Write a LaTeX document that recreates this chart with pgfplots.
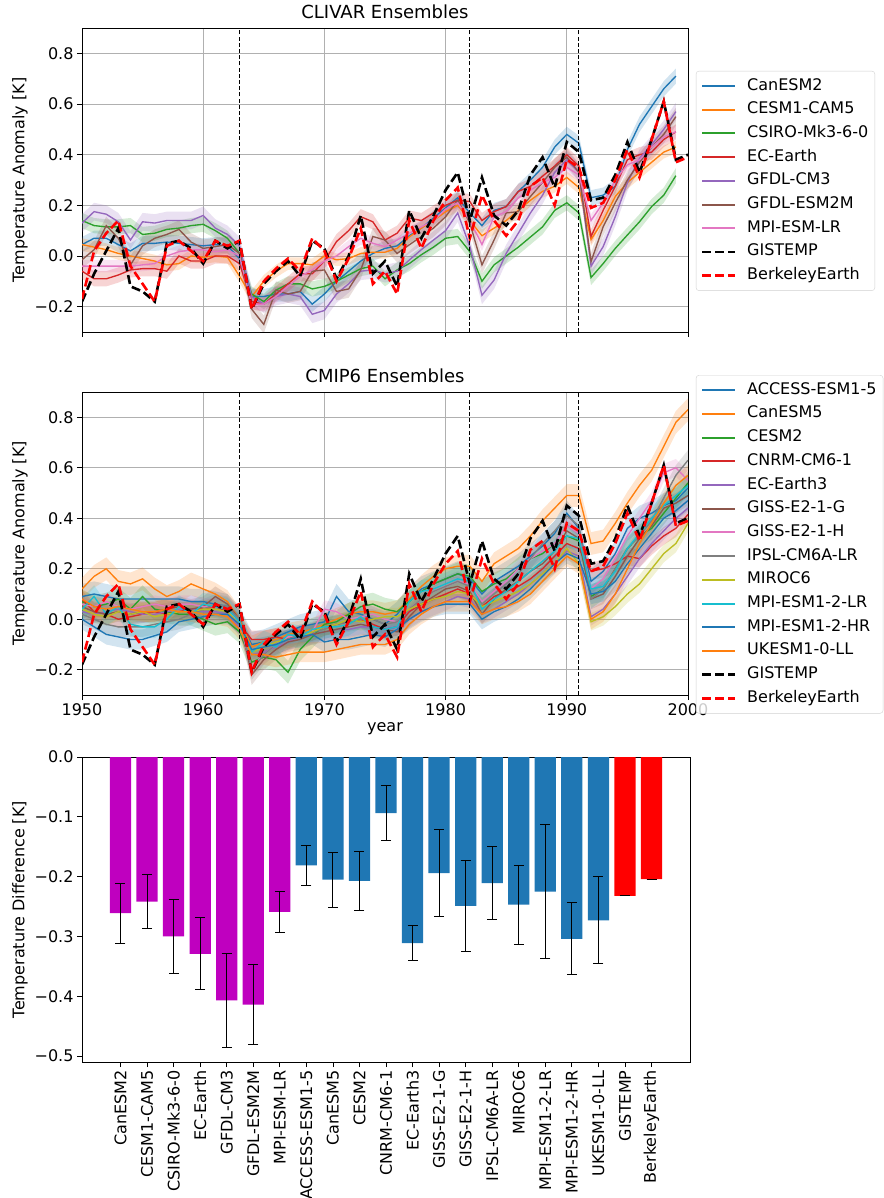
\documentclass[border=0pt]{standalone}
\usepackage{fontspec}
\setmainfont{DejaVu Sans}
\usepackage{pgfplots}
\usepackage{pgfplotstable}
\pgfplotsset{compat=1.18}

\definecolor{C0}{HTML}{1F77B4}
\definecolor{C1}{HTML}{FF7F0E}
\definecolor{C2}{HTML}{2CA02C}
\definecolor{C3}{HTML}{D62728}
\definecolor{C4}{HTML}{9467BD}
\definecolor{C5}{HTML}{8C564B}
\definecolor{C6}{HTML}{E377C2}
\definecolor{C7}{HTML}{7F7F7F}
\definecolor{C8}{HTML}{BCBD22}
\definecolor{C9}{HTML}{17BECF}
\definecolor{mag}{rgb}{0.75,0,0.75}
\definecolor{gridc}{HTML}{B0B0B0}

\newcommand\fs{\fontsize{16}{19}\selectfont}

% CLIVAR ensemble means: a1 CanESM2, a2 CESM1-CAM5, a3 CSIRO-Mk3-6-0, a4 EC-Earth, a5 GFDL-CM3, a6 GFDL-ESM2M, a7 MPI-ESM-LR
\pgfplotstableread{
year a1 a2 a3 a4 a5 a6 a7
1950 0.045 0.045 0.14 -0.06 0.13 -0.015 -0.04
1951 0.07 0.035 0.12 -0.09 0.175 0.025 -0.04
1952 0.07 0.025 0.115 -0.09 0.165 0.12 -0.04
1953 0.045 0.01 0.115 -0.075 0.135 0.07 -0.04
1954 0.02 0.0 0.12 -0.055 0.063 -0.035 -0.04
1955 0.05 -0.01 0.085 -0.05 0.135 0.04 -0.035
1956 0.05 -0.02 0.09 -0.05 0.13 0.07 -0.03
1957 0.055 -0.035 0.105 -0.06 0.14 0.085 0.0
1958 0.05 -0.03 0.11 0.0 0.14 0.105 0.017
1959 0.045 0.0 0.12 -0.02 0.14 0.055 0.024
1960 0.04 -0.005 0.125 -0.02 0.16 0.03 0.024
1961 0.045 0.0 0.10 0.0 0.11 0.037 0.017
1962 0.04 -0.005 0.07 0.0 0.085 0.045 0.024
1963 -0.01 -0.08 0.01 -0.03 0.04 0.01 0.0
1964 -0.16 -0.16 -0.15 -0.18 -0.16 -0.21 -0.19
1965 -0.16 -0.10 -0.18 -0.19 -0.19 -0.27 -0.19
1966 -0.15 -0.06 -0.135 -0.15 -0.16 -0.135 -0.16
1967 -0.15 -0.03 -0.11 -0.11 -0.15 -0.15 -0.12
1968 -0.14 -0.03 -0.11 -0.07 -0.16 -0.14 -0.08
1969 -0.19 -0.035 -0.13 -0.07 -0.23 -0.06 -0.055
1970 -0.15 0.0 -0.12 -0.02 -0.215 -0.055 -0.02
1971 -0.10 -0.015 -0.10 0.057 -0.15 -0.14 0.0
1972 -0.06 -0.01 -0.075 0.10 -0.11 -0.13 0.037
1973 -0.02 0.01 -0.05 0.155 -0.06 -0.055 0.07
1974 0.01 0.015 -0.04 0.135 -0.055 0.077 0.05
1975 0.03 0.015 -0.09 0.063 -0.07 0.063 0.037
1976 0.04 0.03 -0.055 0.09 -0.06 0.01 0.063
1977 0.08 0.075 -0.03 0.15 -0.016 0.044 0.09
1978 0.11 0.11 0.005 0.14 0.025 0.077 0.115
1979 0.15 0.14 0.035 0.17 0.063 0.11 0.14
1980 0.19 0.175 0.07 0.20 0.10 0.155 0.185
1981 0.23 0.20 0.077 0.22 0.17 0.22 0.21
1982 0.17 0.14 0.017 0.215 0.037 0.13 0.14
1983 0.12 0.08 -0.10 0.14 -0.155 -0.035 0.045
1984 0.18 0.11 -0.035 0.175 -0.095 0.063 0.155
1985 0.195 0.14 0.0 0.195 0.01 0.17 0.175
1986 0.255 0.18 0.035 0.255 0.09 0.175 0.23
1987 0.30 0.22 0.075 0.275 0.17 0.235 0.26
1988 0.35 0.255 0.115 0.315 0.24 0.29 0.29
1989 0.43 0.275 0.18 0.355 0.33 0.35 0.31
1990 0.48 0.31 0.21 0.40 0.38 0.39 0.35
1991 0.445 0.27 0.17 0.355 0.33 0.33 0.32
1992 0.23 0.065 -0.085 0.077 -0.04 -0.022 0.14
1993 0.24 0.14 -0.03 0.18 0.037 0.115 0.21
1994 0.275 0.235 0.03 0.275 0.155 0.21 0.30
1995 0.42 0.29 0.083 0.38 0.29 0.30 0.36
1996 0.52 0.33 0.135 0.40 0.385 0.37 0.38
1997 0.59 0.37 0.195 0.41 0.44 0.43 0.43
1998 0.66 0.41 0.24 0.46 0.50 0.48 0.47
1999 0.71 0.43 0.317 0.49 0.57 0.55 0.49
}\clivar

% CMIP6 ensemble means
\pgfplotstableread{
year b1 b2 b3 b4 b5 b6 b7 b8 b9 b10 b11 b12
1950 0.09 0.12 0.07 0.08 0.03 0.05 0.06 0.02 0.04 0.04 0.00 0.08
1951 0.10 0.17 0.05 0.03 0.02 0.03 0.05 0.00 0.02 0.09 -0.03 0.05
1952 0.09 0.20 0.06 0.02 0.03 0.02 0.07 -0.02 0.01 0.02 -0.06 0.04
1953 0.08 0.15 0.08 0.00 0.04 0.03 0.05 -0.03 0.03 0.05 -0.07 0.05
1954 0.08 0.14 0.04 0.01 0.03 0.02 0.04 -0.03 0.02 -0.02 -0.08 0.04
1955 0.08 0.16 0.09 0.02 0.02 0.03 0.05 -0.03 0.03 -0.03 -0.08 0.03
1956 0.08 0.12 0.04 0.03 0.02 0.03 0.06 -0.02 0.01 -0.03 -0.065 0.03
1957 0.08 0.09 0.03 0.02 0.03 0.04 0.05 -0.01 0.02 0.00 -0.05 0.04
1958 0.08 0.11 0.02 0.03 0.04 0.05 0.06 0.00 0.03 0.05 -0.01 0.03
1959 0.07 0.14 0.02 0.04 0.04 0.04 0.06 0.02 0.03 0.02 0.00 0.03
1960 0.07 0.12 0.00 0.04 0.03 0.05 0.05 0.04 0.04 0.06 0.01 0.02
1961 0.06 0.10 -0.02 0.05 0.03 0.09 0.05 0.06 0.04 0.05 0.02 0.02
1962 0.05 0.07 -0.01 0.03 0.02 0.06 0.04 0.05 0.03 0.04 0.02 0.01
1963 0.00 0.00 -0.05 -0.02 -0.03 0.00 -0.02 0.00 -0.02 -0.01 -0.02 -0.04
1964 -0.10 -0.11 -0.17 -0.08 -0.14 -0.22 -0.19 -0.20 -0.13 -0.13 -0.12 -0.14
1965 -0.09 -0.09 -0.15 -0.08 -0.13 -0.16 -0.14 -0.14 -0.11 -0.09 -0.11 -0.14
1966 -0.07 -0.08 -0.16 -0.07 -0.11 -0.12 -0.10 -0.10 -0.09 -0.11 -0.10 -0.15
1967 -0.05 -0.06 -0.21 -0.08 -0.09 -0.09 -0.07 -0.08 -0.08 -0.06 -0.08 -0.14
1968 -0.03 -0.05 -0.12 -0.06 -0.07 -0.08 -0.06 -0.06 -0.07 -0.07 -0.07 -0.13
1969 -0.02 -0.04 -0.07 -0.05 -0.06 -0.06 -0.05 -0.05 -0.05 -0.04 -0.06 -0.13
1970 -0.01 -0.02 -0.02 -0.03 -0.05 -0.05 0.04 -0.04 -0.03 -0.03 -0.09 -0.13
1971 0.09 0.00 -0.01 -0.02 -0.04 -0.04 0.03 -0.02 -0.02 -0.03 -0.08 -0.12
1972 0.03 0.02 0.02 -0.01 -0.04 -0.03 0.00 -0.01 0.00 -0.02 -0.08 -0.11
1973 0.02 0.03 0.05 0.00 -0.03 -0.02 0.01 0.00 -0.01 0.01 -0.07 -0.10
1974 0.00 0.03 0.06 -0.02 -0.03 -0.03 0.02 0.00 0.00 -0.03 -0.06 -0.10
1975 -0.02 0.02 0.04 -0.04 -0.04 -0.04 0.00 -0.02 0.01 -0.04 -0.07 -0.10
1976 0.02 0.03 0.03 -0.03 -0.03 -0.05 -0.01 -0.01 0.01 -0.03 -0.04 -0.08
1977 0.08 0.08 0.07 0.03 0.00 0.01 0.04 0.04 0.04 0.07 0.00 -0.02
1978 0.12 0.13 0.11 0.06 0.03 0.06 0.08 0.08 0.06 0.11 0.03 0.02
1979 0.14 0.17 0.14 0.08 0.05 0.09 0.11 0.11 0.08 0.12 0.05 0.05
1980 0.16 0.20 0.16 0.10 0.07 0.12 0.13 0.13 0.09 0.14 0.06 0.07
1981 0.18 0.21 0.18 0.12 0.09 0.13 0.15 0.15 0.11 0.16 0.06 0.07
1982 0.16 0.21 0.17 0.10 0.08 0.11 0.14 0.13 0.10 0.15 0.06 0.07
1983 0.10 0.15 0.11 0.05 0.02 0.02 0.07 0.06 0.05 0.04 0.00 0.02
1984 0.15 0.22 0.14 0.09 0.04 0.08 0.11 0.10 0.07 0.08 0.03 0.04
1985 0.18 0.25 0.16 0.11 0.07 0.12 0.15 0.14 0.09 0.11 0.05 0.05
1986 0.21 0.28 0.20 0.13 0.10 0.15 0.20 0.18 0.11 0.15 0.08 0.07
1987 0.25 0.33 0.24 0.16 0.14 0.19 0.24 0.24 0.14 0.19 0.12 0.10
1988 0.29 0.39 0.26 0.20 0.18 0.22 0.27 0.30 0.18 0.23 0.17 0.15
1989 0.34 0.44 0.30 0.25 0.22 0.27 0.30 0.35 0.22 0.27 0.22 0.20
1990 0.42 0.49 0.33 0.30 0.27 0.35 0.37 0.41 0.28 0.33 0.26 0.25
1991 0.36 0.49 0.31 0.28 0.25 0.32 0.34 0.37 0.22 0.32 0.24 0.22
1992 0.15 0.30 0.09 0.19 0.01 0.08 0.12 0.08 -0.01 0.12 0.10 0.00
1993 0.19 0.31 0.12 0.20 0.04 0.10 0.16 0.12 0.01 0.13 0.11 0.03
1994 0.26 0.38 0.20 0.22 0.10 0.17 0.24 0.20 0.05 0.19 0.15 0.10
1995 0.36 0.46 0.28 0.25 0.17 0.25 0.33 0.28 0.10 0.28 0.22 0.20
1996 0.40 0.53 0.33 0.24 0.24 0.32 0.40 0.33 0.14 0.34 0.28 0.30
1997 0.42 0.59 0.36 0.29 0.30 0.37 0.47 0.39 0.20 0.40 0.34 0.38
1998 0.45 0.685 0.42 0.33 0.35 0.44 0.58 0.48 0.26 0.45 0.40 0.46
1999 0.47 0.78 0.48 0.36 0.40 0.46 0.60 0.57 0.30 0.49 0.43 0.53
2000 0.52 0.83 0.54 0.415 0.44 0.49 0.55 0.63 0.38 0.53 0.47 0.57
}\cmip

% observations
\pgfplotstableread{
year gis be
1950 -0.18 -0.17
1951 -0.07 0.02
1952 0.02 0.09
1953 0.11 0.14
1954 -0.12 -0.04
1955 -0.14 -0.11
1956 -0.18 -0.18
1957 0.05 0.04
1958 0.06 0.06
1959 0.03 0.02
1960 -0.03 -0.02
1961 0.06 0.06
1962 0.03 0.04
1963 0.06 0.06
1964 -0.21 -0.21
1965 -0.11 -0.10
1966 -0.06 -0.05
1967 -0.02 -0.01
1968 -0.08 -0.06
1969 0.06 0.07
1970 0.03 0.02
1971 -0.09 -0.10
1972 0.00 -0.01
1973 0.16 0.11
1974 -0.07 -0.11
1975 -0.02 -0.06
1976 -0.12 -0.15
1977 0.18 0.14
1978 0.07 0.03
1979 0.16 0.14
1980 0.26 0.22
1981 0.33 0.27
1982 0.14 0.07
1983 0.31 0.24
1984 0.16 0.14
1985 0.12 0.08
1986 0.18 0.14
1987 0.32 0.275
1988 0.39 0.31
1989 0.27 0.20
1990 0.45 0.38
1991 0.41 0.35
1992 0.22 0.19
1993 0.23 0.21
1994 0.32 0.30
1995 0.45 0.42
1996 0.33 0.31
1997 0.46 0.46
1998 0.61 0.61
1999 0.38 0.37
2000 0.40 0.39
}\obs

% bar chart
\pgfplotstableread{
x y e
0 -0.261 0.050
1 -0.242 0.045
2 -0.300 0.062
3 -0.329 0.060
4 -0.407 0.079
5 -0.414 0.067
6 -0.259 0.034
}\barsA
\pgfplotstableread{
x y e
7 -0.181 0.033
8 -0.205 0.046
9 -0.207 0.049
10 -0.094 0.046
11 -0.311 0.030
12 -0.194 0.073
13 -0.249 0.076
14 -0.211 0.061
15 -0.247 0.066
16 -0.225 0.112
17 -0.304 0.060
18 -0.273 0.073
}\barsB
\pgfplotstableread{
x y e
19 -0.232 0
20 -0.204 0
}\barsC

% ensemble spread band around a mean column (#2 of table #1), colour #3, half width #4
\newcommand{\band}[4]{%
  \addplot[draw=none, stack plots=y, forget plot] table[x=year, y expr=\thisrow{#2}-#4]{#1};
  \addplot[draw=none, fill=#3, fill opacity=0.2, stack plots=y, forget plot] table[x=year, y expr=2*#4]{#1} \closedcycle;
  \addplot[draw=none, stack plots=y, forget plot] table[x=year, y expr=-\thisrow{#2}-#4]{#1};
}

\pgfplotsset{
  common/.style={
    scale only axis,
    tick align=outside, major tick length=5pt, tick pos=left,
    tick style={black, line width=0.8pt},
    axis line style={black, line width=0.8pt},
    tick label style={font=\fs},
    label style={font=\fs},
    title style={font=\fontsize{18}{21}\selectfont},
  },
  ts/.style={
    common,
    width=606pt, height=304pt,
    xmin=1950, xmax=2000, ymin=-0.3, ymax=0.9,
    xtick={1950,1960,1970,1980,1990,2000},
    ytick={-0.2,0,0.2,0.4,0.6,0.8},
    yticklabels={−0.2,0.0,0.2,0.4,0.6,0.8},
    grid=major, major grid style={draw=gridc, line width=0.8pt},
    ylabel={Temperature Anomaly [K]},
    legend cell align=left,
    legend image code/.code={\draw[##1] (0pt,0pt) -- (33pt,0pt);},
    legend style={draw=black!18, rounded corners=3pt, fill=white, fill opacity=0.8,
      draw opacity=1, text opacity=1, font=\fs,
      inner xsep=5pt, inner ysep=6pt, row sep=5.7pt,
      nodes={inner sep=1.5pt, text height=11.5pt, text depth=3.5pt},
      /tikz/every odd column/.append style={column sep=9pt}},
  },
  mline/.style={line width=1.35pt, legend image post style={line width=2pt}},
  obsline/.style={line width=2.6pt, dash pattern=on 9pt off 4pt},
  volc/.style={black, line width=1pt, dash pattern=on 4pt off 2.2pt, forget plot},
  ebar/.style={error bars/.cd, y dir=both, y explicit, error mark=|,
    error bar style={black, line width=0.9pt},
    error mark options={black, line width=0.9pt, mark size=5pt}},
}

\begin{document}
\begin{tikzpicture}

% ---------------- CLIVAR ----------------
\begin{axis}[ts, at={(82pt,-28pt)}, anchor=north west,
  title={CLIVAR Ensembles}, xticklabels={},
  legend style={at={(1.013,0.859)}, anchor=north west}]
\band{\clivar}{a1}{C0}{0.03}
\band{\clivar}{a2}{C1}{0.025}
\band{\clivar}{a3}{C2}{0.03}
\band{\clivar}{a4}{C3}{0.03}
\band{\clivar}{a5}{C4}{0.035}
\band{\clivar}{a6}{C5}{0.035}
\band{\clivar}{a7}{C6}{0.025}
\addplot[C0, mline] table[x=year, y=a1]{\clivar}; \addlegendentry{CanESM2}
\addplot[C1, mline] table[x=year, y=a2]{\clivar}; \addlegendentry{CESM1-CAM5}
\addplot[C2, mline] table[x=year, y=a3]{\clivar}; \addlegendentry{CSIRO-Mk3-6-0}
\addplot[C3, mline] table[x=year, y=a4]{\clivar}; \addlegendentry{EC-Earth}
\addplot[C4, mline] table[x=year, y=a5]{\clivar}; \addlegendentry{GFDL-CM3}
\addplot[C5, mline] table[x=year, y=a6]{\clivar}; \addlegendentry{GFDL-ESM2M}
\addplot[C6, mline] table[x=year, y=a7]{\clivar}; \addlegendentry{MPI-ESM-LR}
\addplot[black, obsline] table[x=year, y=gis]{\obs}; \addlegendentry{GISTEMP}
\addplot[red, obsline] table[x=year, y=be]{\obs}; \addlegendentry{BerkeleyEarth}
\addplot[volc] coordinates {(1963,-0.3) (1963,0.9)};
\addplot[volc] coordinates {(1982,-0.3) (1982,0.9)};
\addplot[volc] coordinates {(1991,-0.3) (1991,0.9)};
\end{axis}

% ---------------- CMIP6 ----------------
\begin{axis}[ts, at={(82pt,-392pt)}, anchor=north west, height=303pt,
  title={CMIP6 Ensembles}, xlabel={year},
  xticklabels={1950,1960,1970,1980,1990,2000},
  legend style={at={(1.013,1.056)}, anchor=north west}]
\band{\cmip}{b1}{C0}{0.05}
\band{\cmip}{b2}{C1}{0.045}
\band{\cmip}{b3}{C2}{0.045}
\band{\cmip}{b4}{C3}{0.035}
\band{\cmip}{b5}{C4}{0.035}
\band{\cmip}{b6}{C5}{0.04}
\band{\cmip}{b7}{C6}{0.035}
\band{\cmip}{b8}{C7}{0.04}
\band{\cmip}{b9}{C8}{0.035}
\band{\cmip}{b10}{C9}{0.045}
\band{\cmip}{b11}{C0}{0.04}
\band{\cmip}{b12}{C1}{0.04}
\addplot[C0, mline] table[x=year, y=b1]{\cmip}; \addlegendentry{ACCESS-ESM1-5}
\addplot[C1, mline] table[x=year, y=b2]{\cmip}; \addlegendentry{CanESM5}
\addplot[C2, mline] table[x=year, y=b3]{\cmip}; \addlegendentry{CESM2}
\addplot[C3, mline] table[x=year, y=b4]{\cmip}; \addlegendentry{CNRM-CM6-1}
\addplot[C4, mline] table[x=year, y=b5]{\cmip}; \addlegendentry{EC-Earth3}
\addplot[C5, mline] table[x=year, y=b6]{\cmip}; \addlegendentry{GISS-E2-1-G}
\addplot[C6, mline] table[x=year, y=b7]{\cmip}; \addlegendentry{GISS-E2-1-H}
\addplot[C7, mline] table[x=year, y=b8]{\cmip}; \addlegendentry{IPSL-CM6A-LR}
\addplot[C8, mline] table[x=year, y=b9]{\cmip}; \addlegendentry{MIROC6}
\addplot[C9, mline] table[x=year, y=b10]{\cmip}; \addlegendentry{MPI-ESM1-2-LR}
\addplot[C0, mline] table[x=year, y=b11]{\cmip}; \addlegendentry{MPI-ESM1-2-HR}
\addplot[C1, mline] table[x=year, y=b12]{\cmip}; \addlegendentry{UKESM1-0-LL}
\addplot[black, obsline] table[x=year, y=gis]{\obs}; \addlegendentry{GISTEMP}
\addplot[red, obsline] table[x=year, y=be]{\obs}; \addlegendentry{BerkeleyEarth}
\addplot[volc] coordinates {(1963,-0.3) (1963,0.9)};
\addplot[volc] coordinates {(1982,-0.3) (1982,0.9)};
\addplot[volc] coordinates {(1991,-0.3) (1991,0.9)};
\end{axis}

% ---------------- Bars ----------------
\begin{axis}[common, at={(82pt,-757pt)}, anchor=north west,
  width=608pt, height=305pt,
  xmin=-1.45, xmax=21.45, ymin=-0.51, ymax=0,
  ybar, bar width=0.8, bar shift=0pt,
  xtick={0,1,...,20},
  xticklabels={CanESM2,CESM1-CAM5,CSIRO-Mk3-6-0,EC-Earth,GFDL-CM3,GFDL-ESM2M,MPI-ESM-LR,ACCESS-ESM1-5,CanESM5,CESM2,CNRM-CM6-1,EC-Earth3,GISS-E2-1-G,GISS-E2-1-H,IPSL-CM6A-LR,MIROC6,MPI-ESM1-2-LR,MPI-ESM1-2-HR,UKESM1-0-LL,GISTEMP,BerkeleyEarth},
  x tick label style={rotate=90, anchor=east},
  ytick={-0.5,-0.4,-0.3,-0.2,-0.1,0},
  yticklabels={−0.5,−0.4,−0.3,−0.2,−0.1,0.0},
  ylabel={Temperature Difference [K]}]
\addplot[fill=mag, draw=none, ebar] table[x=x, y=y, y error=e]{\barsA};
\addplot[fill=C0, draw=none, ebar] table[x=x, y=y, y error=e]{\barsB};
\addplot[fill=red, draw=none, ebar] table[x=x, y=y, y error=e]{\barsC};
\end{axis}

\pgfresetboundingbox
\path[use as bounding box] (0pt,0pt) rectangle (883pt,-1198pt);
\end{tikzpicture}
\end{document}
